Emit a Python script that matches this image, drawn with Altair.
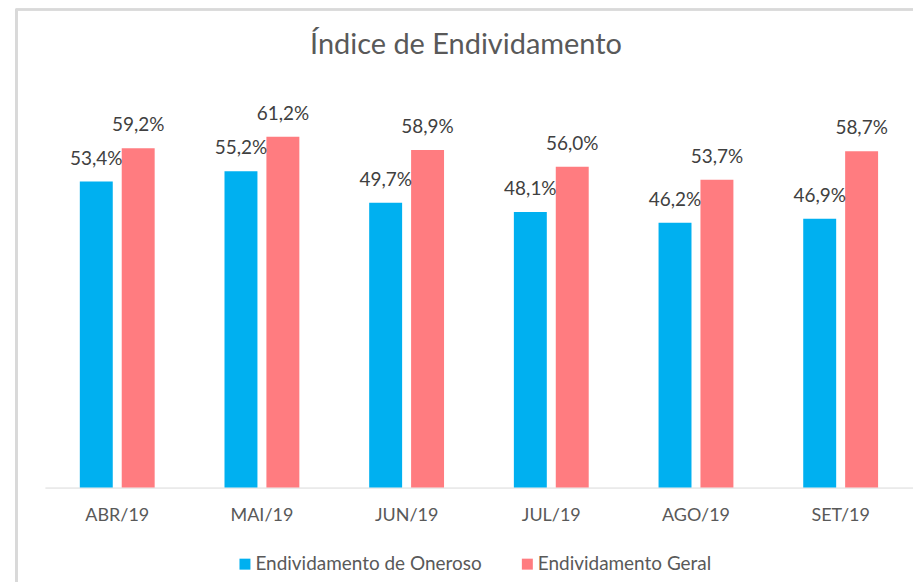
import altair as alt
import pandas as pd

months = ["ABR/19", "MAI/19", "JUN/19", "JUL/19", "AGO/19", "SET/19"]
oneroso = [53.4, 55.2, 49.7, 48.1, 46.2, 46.9]
geral = [59.2, 61.2, 58.9, 56.0, 53.7, 58.7]
series = ["Endividamento de Oneroso", "Endividamento Geral"]
colors = ["#00B0F0", "#FF7C80"]

rows = []
for m, a, b in zip(months, oneroso, geral):
    for s, v in zip(series, (a, b)):
        rows.append({"mes": m, "serie": s, "valor": v,
                     "rotulo": f"{v:.1f}".replace(".", ",") + "%"})
df = pd.DataFrame(rows)

FONT = "Lato"

base = alt.Chart(df).encode(
    x=alt.X("mes:N", sort=months, title=None,
            scale=alt.Scale(paddingInner=0, paddingOuter=0),
            axis=alt.Axis(labelAngle=0, ticks=False, domainColor="#D9D9D9",
                          labelColor="#595959", labelFont=FONT, labelFontSize=18,
                          labelPadding=19)),
    xOffset=alt.XOffset("serie:N", sort=series,
                        scale=alt.Scale(paddingInner=0.214, paddingOuter=0.833)),
    y=alt.Y("valor:Q", scale=alt.Scale(domain=[0, 70]), axis=None),
)

bars = base.mark_bar().encode(
    color=alt.Color("serie:N", sort=series,
                    scale=alt.Scale(domain=series, range=colors),
                    legend=alt.Legend(title=None, orient="none", direction="horizontal",
                                      legendX=191, legendY=469,
                                      symbolType="square", symbolSize=121,
                                      symbolStrokeWidth=0, labelLimit=400,
                                      labelFont=FONT, labelFontSize=19,
                                      labelColor="#595959", columnPadding=36,
                                      labelOffset=1))
)

labels = base.mark_text(baseline="alphabetic", dy=-17, font=FONT, fontSize=19,
                        color="#404040").encode(text="rotulo:N")

frame = alt.Chart(df).mark_rect(fill="transparent", stroke="#D9D9D9", strokeWidth=1.5).encode(
    x=alt.value(-28.5), x2=alt.value(900), y=alt.value(-77), y2=alt.value(520)
)

chart = alt.layer(frame, bars, labels).properties(
    width=870, height=402,
    background="white",
    title=alt.TitleParams("Índice de Endividamento", font=FONT, fontSize=29,
                          fontWeight="normal", color="#595959", anchor="middle",
                          frame="group", offset=-51, dx=-13),
    autosize=alt.AutoSizeParams(type="none"),
    padding={"left": 45, "top": 86, "right": 0, "bottom": 94},
).configure_view(stroke="transparent", strokeWidth=0)

chart.save("out.html", embed_options={"renderer": "svg", "actions": False})
